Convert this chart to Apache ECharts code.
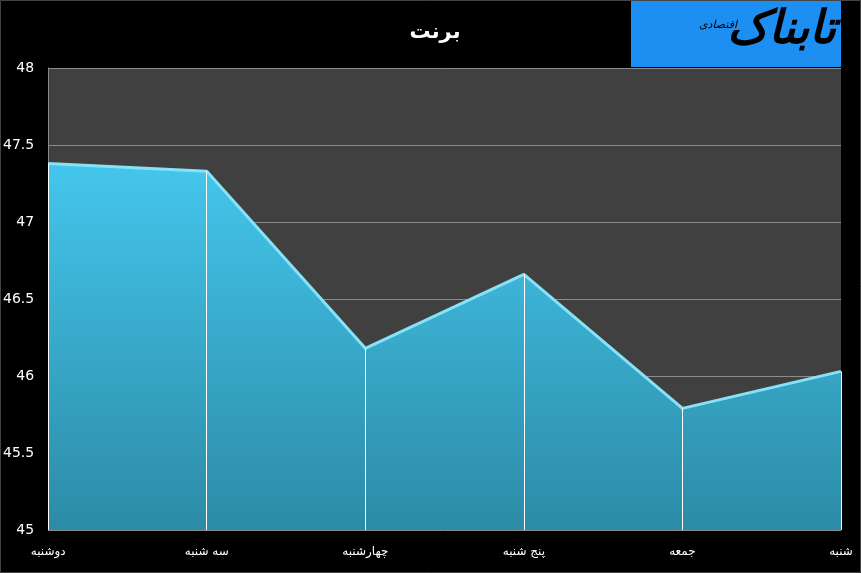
<!DOCTYPE html>
<html><head><meta charset="utf-8">
<script src="https://cdn.jsdelivr.net/npm/echarts@6/dist/echarts.min.js"></script>
<style>html,body{margin:0;padding:0;background:#000;}#c{width:861px;height:573px;}</style>
</head><body><div id="c"></div>
<script>
const categories = ['دوشنبه', 'سه شنبه', 'چهارشنبه', 'پنج شنبه', 'جمعه', 'شنبه'];
const values = [47.38, 47.33, 46.18, 46.66, 45.79, 46.03];
const yMin = 45, yMax = 48, yStep = 0.5;
const titleText = 'برنت';

const chart = echarts.init(document.getElementById('c'));
chart.setOption({
  backgroundColor: '#000',
  animation: false,
  title: { text: titleText, left: 430, top: 17, textAlign: 'center',
    textStyle: { color: '#fff', fontSize: 21, fontWeight: 'bold', fontFamily: 'DejaVu Sans' } },
  grid: { left: 47, right: 20, top: 68, bottom: 43, show: true, backgroundColor: '#404040', borderWidth: 0 },
  xAxis: {
    type: 'category', data: categories, boundaryGap: false,
    axisLine: { show: false }, axisTick: { show: false }, splitLine: { show: false },
    axisLabel: { color: '#fff', fontSize: 12, fontFamily: 'DejaVu Sans', margin: 16 }
  },
  yAxis: {
    type: 'value', min: yMin, max: yMax, interval: yStep,
    axisLine: { show: true, lineStyle: { color: '#8a8a8a', width: 1 } },
    axisTick: { show: false },
    splitLine: { show: true, lineStyle: { color: '#8c8c8c', width: 1 } },
    axisLabel: { color: '#fff', fontSize: 14, fontFamily: 'DejaVu Sans', margin: 14 }
  },
  series: [{
    type: 'line', data: values, symbol: 'none',
    lineStyle: { color: '#86e3f7', width: 3 },
    areaStyle: { opacity: 1, origin: 'start',
      color: new echarts.graphic.LinearGradient(0, 0, 0, 1, [
        { offset: 0, color: '#44c6ec' }, { offset: 1, color: '#2c8ba6' }]) },
    markLine: {
      silent: true, symbol: 'none', label: { show: false },
      lineStyle: { color: '#ffffff', width: 1, type: 'solid' },
      data: values.map(function (v, i) { return [{ coord: [i, v] }, { coord: [i, yMin] }]; })
    }
  }],
  graphic: [
    { type: 'rect', shape: { x: 631, y: 0, width: 210, height: 67 }, style: { fill: '#1d8ef2' } },
    { type: 'text', x: 836, y: 8, style: { text: 'تابناک', fill: '#000', align: 'right', font: 'bold italic 46px "DejaVu Sans"' } },
    { type: 'text', x: 718, y: 20, style: { text: 'اقتصادی', fill: '#000', align: 'center', font: 'italic 11px "DejaVu Sans"' } },
    { type: 'rect', shape: { x: 0.5, y: 0.5, width: 860, height: 572 }, style: { fill: 'none', stroke: '#444', lineWidth: 1 } }
  ]
});
</script></body></html>
